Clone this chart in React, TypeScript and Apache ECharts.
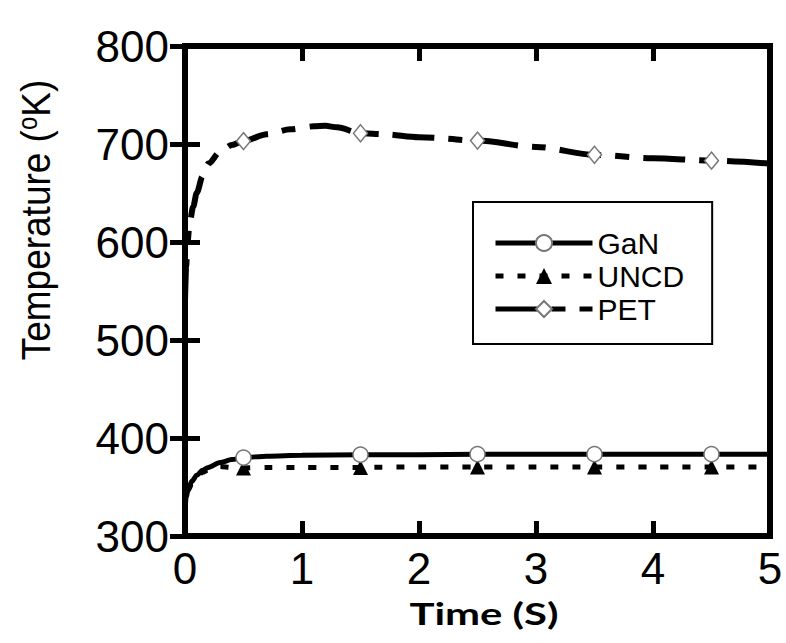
import React, { useEffect, useRef } from "react";
import * as echarts from "echarts";

// Time axis samples (s) and temperatures (K) for each substrate
const ganTime = [0, 0.01, 0.03, 0.06, 0.1, 0.15, 0.2, 0.3, 0.4, 0.5, 0.7, 1.0, 1.5, 2.0, 2.5, 3.0, 3.5, 4.0, 4.5, 5.0];
const ganTemp = [325, 340, 349, 356, 362, 367, 370, 375, 378, 380, 381.5, 382.5, 383, 383, 383.5, 383.5, 383.5, 383.5, 383.5, 383.5];

const uncdTime = [0, 0.01, 0.03, 0.06, 0.1, 0.15, 0.2, 0.3, 0.4, 0.5, 0.7, 1.0, 1.5, 2.0, 2.5, 3.0, 3.5, 4.0, 4.5, 5.0];
const uncdTemp = [323, 338, 347, 354, 360, 365, 367.5, 371, 370, 369.5, 370, 370, 370, 370.5, 370.5, 370.5, 370.5, 370.5, 370.5, 370.5];

const petTime = [0, 0.01, 0.02, 0.04, 0.07, 0.1, 0.15, 0.2, 0.3, 0.4, 0.5, 0.7, 0.9, 1.1, 1.2, 1.3, 1.5, 1.7, 2.0, 2.5, 3.0, 3.5, 4.0, 4.5, 5.0];
const petTemp = [540, 575, 598, 620, 636, 650, 667, 680, 692, 699, 703, 710, 715, 718, 718.5, 717, 711, 710, 707, 703.5, 697, 689, 685.5, 683, 680];

// Times where a marker symbol is drawn on each curve
const markerTimes = [0.5, 1.5, 2.5, 3.5, 4.5];

const seriesNames = ["GaN", "UNCD", "PET"];

const FONT = "'Liberation Sans', Arial, sans-serif";

function buildData(time: number[], temp: number[]) {
  return time.map((t, i) => {
    const item: any = { value: [t, temp[i]] };
    if (!markerTimes.includes(t)) item.symbol = "none";
    return item;
  });
}

export default function App() {
  const ref = useRef<HTMLDivElement>(null);

  useEffect(() => {
    if (!ref.current) return;
    const chart = echarts.init(ref.current, undefined, { renderer: "svg" });

    const tickStyle = { inside: true, length: 15, lineStyle: { width: 5, color: "#000" } };

    chart.setOption({
      animation: false,
      backgroundColor: "#fff",
      textStyle: { fontFamily: FONT },
      grid: {
        left: 185,
        right: 16,
        top: 46,
        bottom: 107,
        show: true,
        borderColor: "#000",
        borderWidth: 6,
      },
      xAxis: [
        {
          type: "value",
          min: 0,
          max: 5,
          interval: 1,
          position: "bottom",
          axisLine: { show: false },
          axisTick: tickStyle,
          axisLabel: { fontSize: 44, color: "#000", margin: 10, fontFamily: FONT },
          splitLine: { show: false },
        },
        {
          type: "value",
          min: 0,
          max: 5,
          interval: 1,
          position: "top",
          axisLine: { show: false },
          axisTick: tickStyle,
          axisLabel: { show: false },
          splitLine: { show: false },
        },
      ],
      yAxis: [
        {
          type: "value",
          min: 300,
          max: 800,
          interval: 100,
          position: "left",
          axisLine: { show: false },
          axisTick: tickStyle,
          axisLabel: { fontSize: 44, color: "#000", margin: 16, fontFamily: FONT },
          splitLine: { show: false },
        },
        {
          type: "value",
          min: 300,
          max: 800,
          interval: 100,
          position: "right",
          axisLine: { show: false },
          axisTick: tickStyle,
          axisLabel: { show: false },
          splitLine: { show: false },
        },
      ],
      legend: {
        orient: "vertical",
        left: 473,
        top: 202,
        padding: [26, 28, 20, 20],
        itemWidth: 97,
        itemHeight: 20,
        itemGap: 3,
        borderColor: "#000",
        borderWidth: 2,
        data: seriesNames,
        lineStyle: { width: 5 },
        textStyle: { fontSize: 30, color: "#000", fontFamily: FONT },
      },
      series: [
        {
          name: seriesNames[0],
          type: "line",
          data: buildData(ganTime, ganTemp),
          smooth: 0.3,
          smoothMonotone: "x",
          symbol: "circle",
          symbolSize: 15,
          lineStyle: { color: "#000", width: 5 },
          itemStyle: { color: "#fff", borderColor: "#777", borderWidth: 1.5 },
          z: 3,
        },
        {
          name: seriesNames[1],
          type: "line",
          data: buildData(uncdTime, uncdTemp),
          smooth: 0.3,
          smoothMonotone: "x",
          symbol: "triangle",
          symbolSize: 15,
          lineStyle: { color: "#000", width: 5, type: [8, 14], cap: "butt" },
          itemStyle: { color: "#000", borderColor: "#000", borderWidth: 0 },
          z: 2,
        },
        {
          name: seriesNames[2],
          type: "line",
          data: buildData(petTime, petTemp),
          smooth: 0.3,
          smoothMonotone: "x",
          symbol: "diamond",
          symbolSize: [14, 17],
          lineStyle: { color: "#000", width: 6, type: [42, 14, 14, 14], cap: "butt" },
          itemStyle: { color: "#fff", borderColor: "#777", borderWidth: 1.5 },
          z: 2,
        },
      ],
      graphic: [
        {
          type: "text",
          x: 35,
          y: 220,
          rotation: Math.PI / 2,
          scaleY: 1.12,
          style: {
            text: "{a|Temperature (}{s|o}{a|K)}",
            align: "center",
            verticalAlign: "middle",
            fill: "#000",
            rich: {
              a: { fontSize: 37, fontFamily: FONT, fill: "#000" },
              s: { fontSize: 24, fontFamily: FONT, fill: "#000", verticalAlign: "top", padding: [0, 0, 14, 0] },
            },
          },
        },
        {
          type: "text",
          x: 484,
          y: 613,
          scaleX: 1.35,
          style: {
            text: "Time (S)",
            align: "center",
            verticalAlign: "middle",
            fill: "#000",
            font: "bold 31px Lato, 'Open Sans', sans-serif",
          },
        },
      ],
    });

    return () => chart.dispose();
  }, []);

  return (
    <div
      ref={ref}
      style={{ position: "fixed", left: 0, top: 0, width: 786, height: 643, background: "#fff" }}
    />
  );
}
